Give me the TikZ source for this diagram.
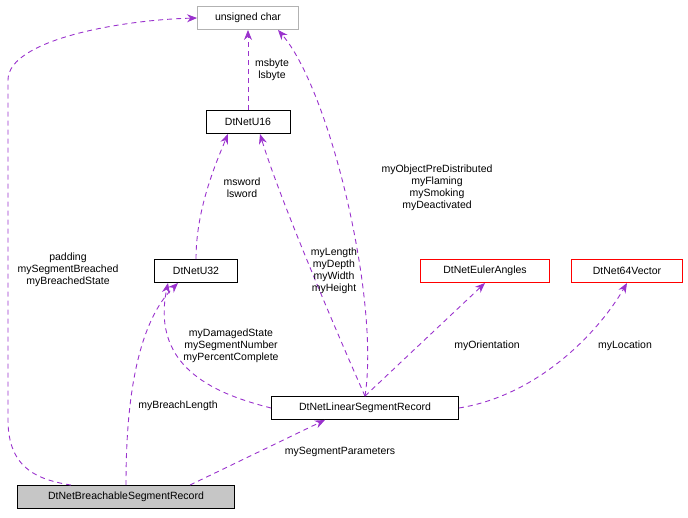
\documentclass[tikz,border=0pt]{standalone}
\usepackage{fontspec}
\setmainfont{Liberation Sans}
\usetikzlibrary{arrows.meta}
\definecolor{edge}{HTML}{9A32CD}
\begin{document}
\begin{tikzpicture}[x=1pt,y=-1pt,font=\fontsize{10.5}{12}\selectfont,
  box/.style={draw,minimum height=23pt,inner sep=2pt,fill=white,line width=0.9pt},
  rel/.style={draw=edge,line width=0.9pt,dash pattern=on 5pt off 4pt,-{Stealth[length=10pt,width=8pt,fill=edge]}},
  lab/.style={align=center,inner sep=1pt}]
\useasboundingbox (0,0) rectangle (688,517);
\node[box,draw=gray!60,minimum width=101pt] (uc) at (248,18) {unsigned char};
\node[box,minimum width=84pt] (u16) at (248,122) {DtNetU16};
\node[box,minimum width=83pt] (u32) at (196,271) {DtNetU32};
\node[box,draw=red,minimum width=129pt] (ea) at (485,271) {DtNetEulerAngles};
\node[box,draw=red,minimum width=111pt] (v64) at (627,271) {DtNet64Vector};
\node[box,minimum width=187pt] (lsr) at (365,408) {DtNetLinearSegmentRecord};
\node[box,fill=gray!45,minimum width=217pt] (bsr) at (126,497) {DtNetBreachableSegmentRecord};

\draw[rel] (u16) -- (uc);
\node[lab] at (272,70) {msbyte\\lsbyte};
\draw[rel] (u32.north) .. controls (196,210) and (215,165) .. ([xshift=-20pt]u16.south);
\node[lab] at (242,188) {msword\\lsword};
\draw[rel] (lsr.north) .. controls (340,340) and (280,200) .. ([xshift=12pt]u16.south);
\node[lab] at (334,271) {myLength\\myDepth\\myWidth\\myHeight};
\draw[rel] (lsr.north) .. controls (380,300) and (330,90) .. ([xshift=30pt]uc.south);
\node[lab] at (437,188) {myObjectPreDistributed\\myFlaming\\mySmoking\\myDeactivated};
\draw[rel] (lsr.west) .. controls (220,395) and (150,370) .. ([xshift=-28pt]u32.south);
\node[lab] at (231,346) {myDamagedState\\mySegmentNumber\\myPercentComplete};
\draw[rel] (lsr.north) -- (ea.south);
\node[lab] at (487,346) {myOrientation};
\draw[rel] (lsr.east) .. controls (540,395) and (600,330) .. (v64.south);
\node[lab] at (625,346) {myLocation};
\draw[rel] ([xshift=-45pt]bsr.north east) -- ([xshift=-40pt]lsr.south);
\node[lab] at (340,452) {mySegmentParameters};
\draw[rel] (bsr.north) .. controls (126,430) and (130,330) .. ([xshift=-18pt]u32.south);
\node[lab] at (178,406) {myBreachLength};
\draw[rel] ([xshift=-55pt]bsr.north) .. controls (40,480) and (8,470) .. (8,420) -- (8,80) .. controls (8,40) and (120,20) .. (uc.west);
\node[lab] at (68,270) {padding\\mySegmentBreached\\myBreachedState};
\end{tikzpicture}
\end{document}
